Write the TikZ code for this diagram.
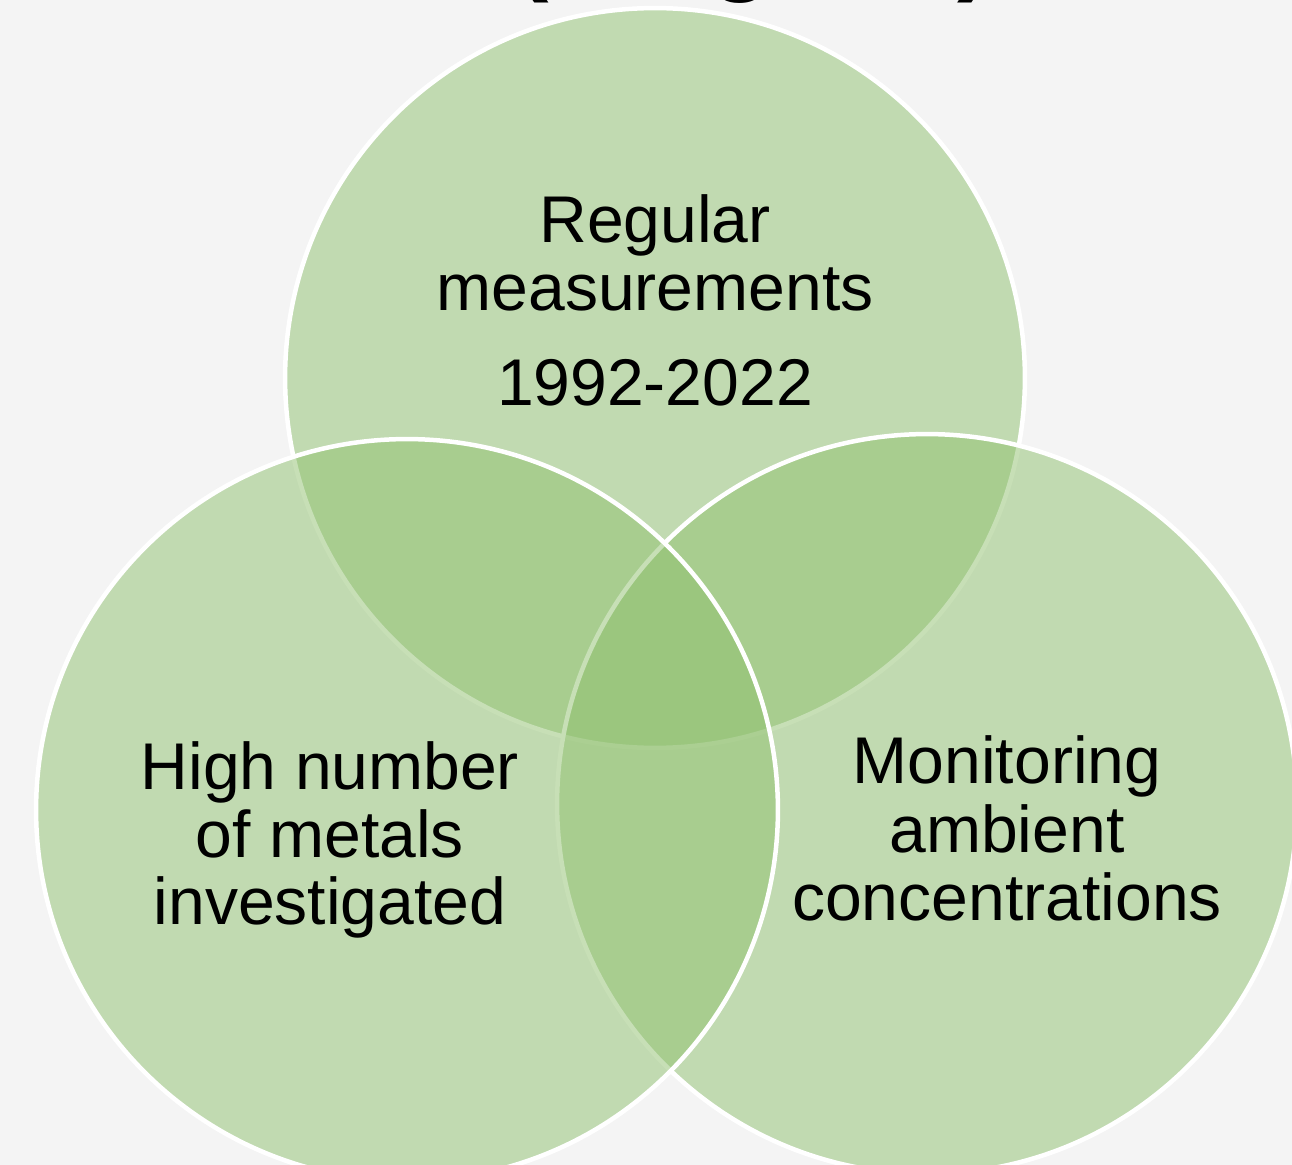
\documentclass[tikz,border=0pt]{standalone}
\usepackage{fontspec}
\setmainfont{Liberation Sans}
\definecolor{bgc}{RGB}{244,244,244}
\definecolor{vgreen}{RGB}{144,193,111}
\tikzset{
  venn/.style={fill=vgreen, fill opacity=0.5, draw=white, line width=0.09cm},
  lbl/.style={anchor=base, inner sep=0pt, text=black, font=\fontsize{37.6pt}{38.7pt}\selectfont},
  ttl/.style={anchor=base, inner sep=0pt, text=black, font=\fontsize{59pt}{60pt}\selectfont\bfseries}
}
\begin{document}
\begin{tikzpicture}[x=0.02cm,y=-0.02cm]
\useasboundingbox (0,0) rectangle (1292,1165);
\begin{scope}
\clip (0,0) rectangle (1292,1165);
\fill[bgc] (0,0) rectangle (1292,1165);
\node[ttl] (title) at (753,-18) {(Belgium)};
\path[venn] (655,378) circle[radius=7.4cm];
\path[venn] (927,804) circle[radius=7.4cm];
\path[venn] (407,810) circle[radius=7.42cm];
\end{scope}
\node[lbl] (t1) at (655,243) {Regular};
\node[lbl] (t2) at (655,311) {measurements};
\node[lbl] (t3) at (655,406) {1992-2022};
\node[lbl] (l1) at (330,789) {High number};
\node[lbl] (l2) at (330,857) {of metals};
\node[lbl] (l3) at (330,924) {investigated};
\node[lbl] (r1) at (1007,783) {Monitoring};
\node[lbl] (r2) at (1007,852) {ambient};
\node[lbl] (r3) at (1007,920) {concentrations};
\end{tikzpicture}
\end{document}
